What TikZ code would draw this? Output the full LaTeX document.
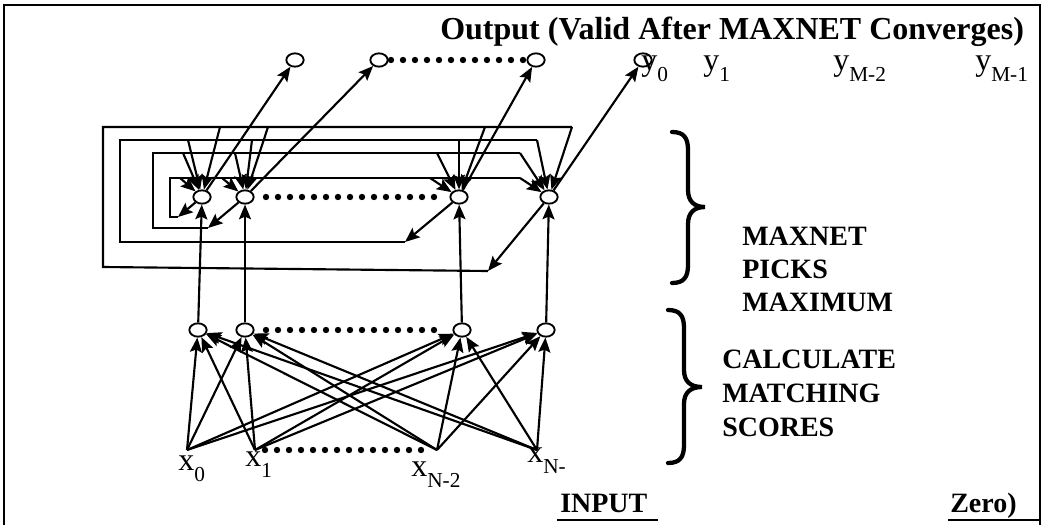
\documentclass[tikz,border=0pt]{standalone}
\usepackage{fontspec}
\setmainfont{Liberation Serif}
\usetikzlibrary{shapes.geometric,arrows.meta}
\newcommand\lsub[1]{\raisebox{-0.35em}{\fontsize{16pt}{16pt}\selectfont #1}}
\begin{document}
\begin{tikzpicture}[x=0.75pt,y=-0.75pt,
  neuron/.style={draw,ellipse,line width=1.4pt,minimum width=13pt,minimum height=10pt,inner sep=0pt,fill=white},
  wire/.style={line width=1.6pt},
  arr/.style={wire,-{Stealth[length=11pt,width=9pt,inset=2pt]}},
  dots/.style={line width=4.8pt,line cap=round,dash pattern=on 0pt off 9pt},
  brace/.style={line width=3.2pt,line cap=round},
  bold/.style={font=\fontsize{21pt}{21pt}\selectfont\bfseries,anchor=base west,inner sep=0pt},
  title/.style={font=\fontsize{24pt}{24pt}\selectfont\bfseries,anchor=base west,inner sep=0pt},
  lbl/.style={font=\fontsize{24pt}{24pt}\selectfont,anchor=base west,inner sep=0pt}]
\useasboundingbox (0,0) rectangle (1043,525);
% frame
\draw[wire] (4,525) -- (4,5) -- (1040,5) -- (1040,525);

% output layer
\node[neuron] (o1) at (295,60) {};
\node[neuron] (o2) at (379,60) {};
\node[neuron] (o3) at (536,60) {};
\node[neuron] (o4) at (643,60) {};
\draw[dots] (391,60) -- (524,60);

% maxnet layer
\node[neuron] (m1) at (202,197) {};
\node[neuron] (m2) at (245,197) {};
\node[neuron] (m3) at (459,197) {};
\node[neuron] (m4) at (549,197) {};
\draw[dots] (266,197) -- (444,197);

% matching layer
\node[neuron] (h1) at (198,330) {};
\node[neuron] (h2) at (245,330) {};
\node[neuron] (h3) at (462,330) {};
\node[neuron] (h4) at (546,330) {};
\draw[dots] (266,330) -- (436,330);

% inputs
\coordinate (x0) at (187,450);
\coordinate (x1) at (255,450);
\coordinate (x2) at (437,450);
\coordinate (x3) at (537,450);
\draw[dots] (265,450) -- (427,450);

\foreach \i in {x0,x1,x2,x3}
  \foreach \j in {h1,h2,h3,h4}
    \draw[arr] (\i) -- (\j);

% matching -> maxnet
\foreach \j in {1,2,3,4}
  \draw[arr] (h\j) -- (m\j);

% maxnet -> output
\foreach \j in {1,2,3,4}
  \draw[arr] (m\j) -- (o\j);

% loop 1 (from m1)
\coordinate (a1) at (178,217);
\coordinate (b1) at (520,178);
\draw[arr] (m1) -- (a1);
\draw[wire] (a1) -- (170,217) -- (170,178) -- (b1);
\draw[arr] (b1) -- (m4);
\draw[arr] (180,178) -- (m1);
\draw[arr] (222,178) -- (m2);
\draw[arr] (430,178) -- (m3);

% loop 2 (from m2)
\coordinate (a2) at (208,228);
\coordinate (b2) at (520,153);
\draw[arr] (m2) -- (a2);
\draw[wire] (a2) -- (153,228) -- (153,153) -- (b2);
\draw[arr] (b2) -- (m4);
\draw[arr] (183,153) -- (m1);
\draw[arr] (235,153) -- (m2);
\draw[arr] (437,153) -- (m3);

% loop 3 (from m3)
\coordinate (a3) at (405,242);
\coordinate (b3) at (537,140);
\draw[arr] (m3) -- (a3);
\draw[wire] (a3) -- (120,242) -- (120,140) -- (b3);
\draw[arr] (b3) -- (m4);
\draw[arr] (188,140) -- (m1);
\draw[arr] (252,140) -- (m2);
\draw[arr] (459,140) -- (m3);

% loop 4 (from m4)
\coordinate (a4) at (488,271);
\coordinate (b4) at (572,127);
\draw[arr] (m4) -- (a4);
\draw[wire] (a4) -- (103,267) -- (103,127) -- (b4);
\draw[arr] (b4) -- (m4);
\draw[arr] (220,127) -- (m1);
\draw[arr] (268,127) -- (m2);
\draw[arr] (485,127) -- (m3);

% braces
\draw[brace] (672,132) .. controls (684,132) and (688,138) .. (688,150) -- (688,190)
  .. controls (688,201) and (694,207) .. (705,207)
  .. controls (694,207) and (688,213) .. (688,224) -- (688,265)
  .. controls (688,277) and (684,283) .. (672,283);
\draw[brace] (668,310) .. controls (680,310) and (684,316) .. (684,328) -- (684,370)
  .. controls (684,381) and (690,387) .. (702,387)
  .. controls (690,387) and (684,393) .. (684,404) -- (684,445)
  .. controls (684,457) and (680,463) .. (668,463);

% texts
\node[title] (tt) at (440,39) {Output (Valid After MAXNET Converges)};
\node[lbl] (ly0) at (641,70) {y\lsub{0}};
\node[lbl] (ly1) at (703,70) {y\lsub{1}};
\node[lbl] (ly2) at (833,70) {y\lsub{M-2}};
\node[lbl] (ly3) at (975,70) {y\lsub{M-1}};

\node[bold] (t1) at (742,245) {MAXNET};
\node[bold] (t2) at (742,278) {PICKS};
\node[bold] (t3) at (742,311) {MAXIMUM};
\node[bold] (t4) at (722,368) {CALCULATE};
\node[bold] (t5) at (722,402) {MATCHING};
\node[bold] (t6) at (722,436) {SCORES};

\node[lbl] (lx0) at (178,470) {x\lsub{0}};
\node[lbl] (lx1) at (245,466) {x\lsub{1}};
\node[lbl] (lx2) at (411,476) {x\lsub{N-2}};
\node[lbl] (lx3) at (527,462) {x\lsub{N-}};

\node[bold] (tin) at (560,512) {INPUT};
\node[bold] (tz) at (950,512) {Zero)};
\draw[wire] (tin.base west) ++(-3,8) -- ++(101,0);
\draw[wire] (tz.base west) ++(-2,8) -- (1040,520);
\end{tikzpicture}
\end{document}
